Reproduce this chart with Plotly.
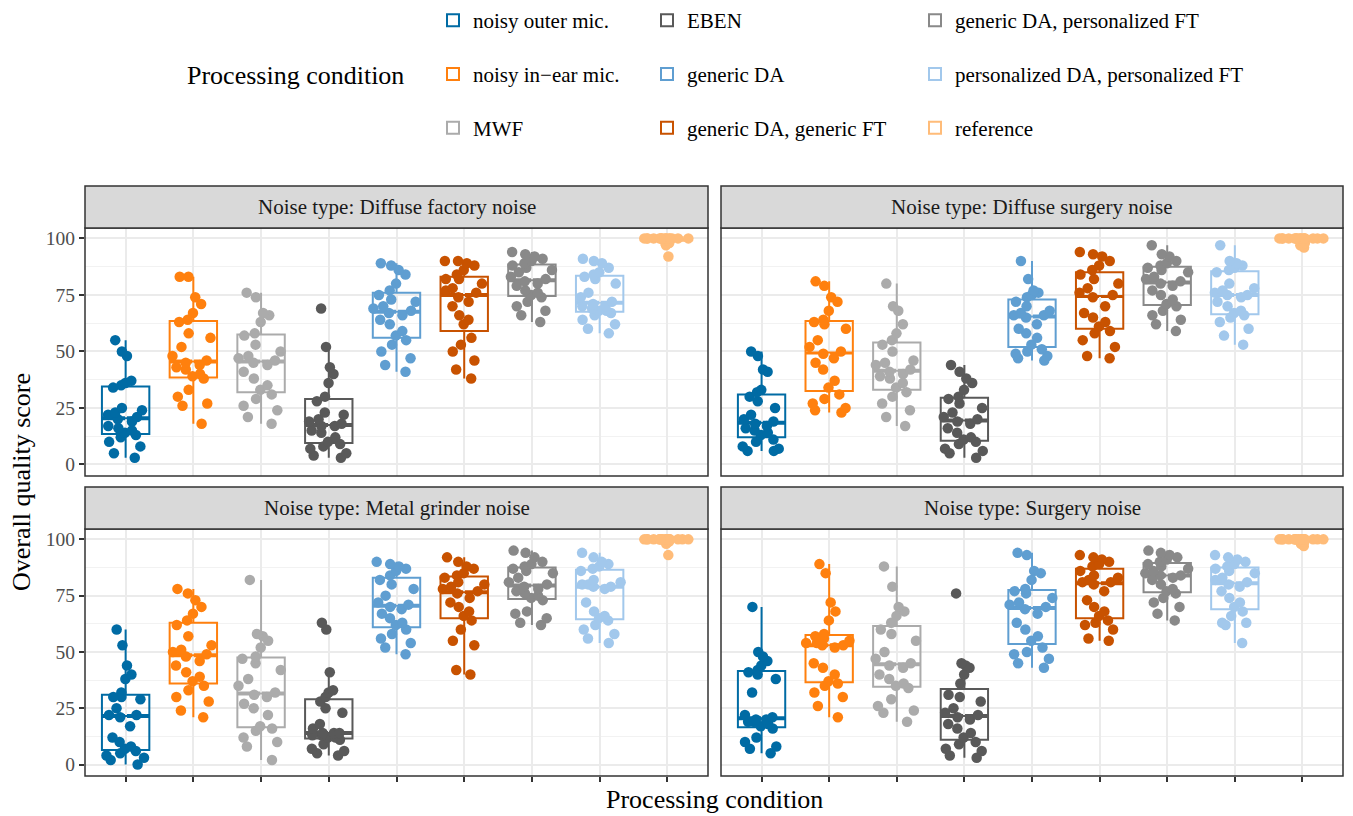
import numpy as np
import plotly.graph_objects as go

# Processing conditions (x categories) and their colours
conditions = [
    "noisy outer mic.",
    "noisy in\u2212ear mic.",
    "MWF",
    "EBEN",
    "generic DA",
    "generic DA, generic FT",
    "generic DA, personalized FT",
    "personalized DA, personalized FT",
    "reference",
]
colors = ["#006BA4", "#FF800E", "#ABABAB", "#595959", "#5F9ED1",
          "#C85200", "#898989", "#A2C8EC", "#FFBC79"]

panel_titles = [
    "Noise type: Diffuse factory noise",
    "Noise type: Diffuse surgery noise",
    "Noise type: Metal grinder noise",
    "Noise type: Surgery noise",
]

# Listener scores, one list per processing condition
diffuse_factory = [
    [3, 5, 8, 10, 12, 13, 14, 15, 16, 17, 19, 20, 21, 22, 23, 24, 25, 34, 35, 36, 37, 48, 50, 55],
    [18, 26, 27, 30, 33, 38, 39, 40, 42, 43, 44, 45, 46, 48, 52, 56, 58, 63, 64, 67, 71, 74, 83, 83],
    [18, 21, 24, 26, 29, 31, 33, 35, 38, 41, 44, 45, 46, 47, 48, 50, 53, 57, 58, 63, 66, 67, 74, 76],
    [3, 4, 5, 7, 8, 9, 10, 12, 14, 15, 17, 17, 18, 19, 20, 22, 23, 28, 30, 36, 40, 43, 52, 69],
    [41, 44, 47, 50, 53, 55, 57, 59, 62, 64, 66, 67, 68, 69, 70, 72, 73, 75, 77, 80, 84, 86, 88, 89],
    [38, 42, 46, 50, 53, 56, 62, 64, 66, 70, 72, 74, 76, 77, 78, 80, 82, 82, 84, 86, 88, 89, 90, 90],
    [63, 66, 68, 70, 72, 74, 75, 76, 77, 79, 80, 81, 82, 83, 85, 86, 87, 88, 89, 90, 91, 92, 93, 94],
    [58, 60, 62, 64, 66, 67, 68, 68, 69, 70, 70, 71, 72, 74, 76, 80, 82, 83, 84, 85, 87, 89, 90, 91],
    [92, 97, 98, 98, 99, 99, 99, 99, 100, 100, 100, 100, 100, 100, 100, 100, 100, 100, 100, 100, 100, 100, 100, 100],
]
diffuse_surgery = [
    [6, 6, 7, 8, 10, 11, 13, 14, 15, 16, 17, 18, 19, 20, 22, 25, 28, 30, 32, 33, 41, 42, 48, 50],
    [23, 24, 25, 27, 29, 31, 34, 37, 42, 45, 47, 49, 50, 52, 55, 60, 62, 63, 64, 68, 72, 74, 79, 81],
    [17, 21, 24, 27, 30, 32, 34, 36, 38, 39, 40, 41, 42, 44, 45, 46, 50, 53, 55, 58, 62, 68, 70, 80],
    [3, 5, 6, 7, 9, 10, 11, 12, 14, 16, 18, 19, 20, 21, 23, 25, 27, 29, 30, 33, 36, 38, 41, 44],
    [46, 47, 48, 49, 50, 51, 53, 56, 58, 60, 62, 65, 66, 66, 67, 68, 70, 72, 74, 75, 76, 77, 82, 90],
    [47, 48, 52, 55, 58, 59, 61, 63, 65, 67, 70, 74, 75, 76, 78, 80, 82, 84, 86, 88, 90, 92, 93, 94],
    [59, 62, 64, 66, 68, 70, 71, 73, 75, 77, 79, 80, 81, 82, 83, 85, 86, 87, 88, 89, 90, 92, 93, 97],
    [53, 57, 60, 63, 65, 66, 67, 68, 70, 72, 74, 75, 75, 76, 77, 78, 80, 85, 86, 87, 88, 89, 90, 97],
    [96, 97, 98, 99, 99, 99, 99, 100, 100, 100, 100, 100, 100, 100, 100, 100, 100, 100, 100, 100, 100, 100, 100, 100],
]
metal_grinder = [
    [0, 2, 3, 4, 5, 6, 7, 8, 10, 12, 17, 21, 22, 22, 25, 29, 30, 30, 32, 38, 40, 44, 53, 60],
    [21, 24, 28, 30, 33, 35, 37, 39, 41, 44, 46, 48, 49, 50, 51, 53, 57, 62, 64, 67, 70, 73, 76, 78],
    [2, 8, 10, 12, 15, 16, 17, 22, 25, 27, 30, 31, 32, 35, 38, 42, 45, 47, 48, 52, 55, 57, 58, 82],
    [4, 5, 6, 7, 9, 11, 12, 12, 13, 13, 14, 14, 14, 16, 18, 23, 25, 28, 30, 32, 33, 41, 60, 63],
    [49, 52, 54, 56, 58, 60, 62, 63, 65, 67, 69, 70, 71, 72, 75, 78, 80, 82, 84, 86, 87, 88, 89, 90],
    [40, 42, 53, 55, 60, 64, 66, 68, 70, 72, 74, 76, 77, 78, 79, 80, 81, 83, 84, 85, 87, 88, 90, 92],
    [62, 63, 65, 67, 68, 73, 74, 75, 76, 77, 78, 79, 80, 81, 83, 85, 86, 87, 88, 89, 90, 92, 94, 95],
    [54, 56, 58, 60, 62, 64, 65, 66, 68, 72, 78, 79, 79, 80, 80, 81, 82, 86, 87, 88, 89, 90, 92, 94],
    [93, 98, 99, 99, 99, 99, 100, 100, 100, 100, 100, 100, 100, 100, 100, 100, 100, 100, 100, 100, 100, 100, 100, 100],
]
surgery = [
    [5, 7, 8, 10, 12, 16, 17, 18, 19, 19, 20, 20, 21, 22, 32, 38, 40, 41, 42, 44, 46, 48, 50, 70],
    [21, 26, 30, 32, 35, 36, 37, 40, 43, 45, 52, 53, 53, 54, 54, 55, 56, 57, 58, 64, 68, 72, 85, 89],
    [19, 23, 24, 26, 29, 34, 35, 36, 38, 40, 43, 44, 45, 47, 50, 55, 58, 60, 63, 66, 68, 70, 79, 88],
    [3, 4, 6, 7, 9, 10, 12, 14, 16, 18, 20, 21, 22, 23, 25, 28, 30, 31, 36, 40, 43, 44, 45, 76],
    [43, 45, 47, 49, 50, 52, 55, 57, 60, 63, 67, 69, 70, 71, 72, 74, 76, 77, 78, 82, 85, 86, 93, 94],
    [55, 56, 60, 62, 63, 64, 66, 68, 70, 73, 77, 80, 81, 81, 82, 83, 84, 86, 88, 89, 90, 91, 92, 93],
    [64, 67, 70, 72, 74, 76, 77, 78, 80, 82, 83, 84, 84, 85, 86, 87, 88, 89, 90, 91, 92, 93, 94, 95],
    [54, 62, 63, 63, 66, 68, 70, 72, 74, 77, 79, 80, 81, 82, 83, 85, 86, 87, 88, 89, 90, 91, 92, 93],
    [97, 98, 99, 99, 99, 99, 100, 100, 100, 100, 100, 100, 100, 100, 100, 100, 100, 100, 100, 100, 100, 100, 100, 100],
]
panel_scores = [diffuse_factory, diffuse_surgery, metal_grinder, surgery]

y_ticks = [0, 25, 50, 75, 100]
y_minor = [12.5, 37.5, 62.5, 87.5]

W, H = 1353, 816
FONT = "Liberation Serif"
BORDER = "#333333"

# Panel geometry in pixels: (left, right, top, bottom) of each plotting area
panel_px = [
    (85, 708, 228, 476),
    (721, 1343, 228, 476),
    (85, 708, 529, 776),
    (721, 1343, 529, 776),
]
STRIP_H = 42
BOX_W = 0.7

fig = go.Figure()
shapes = []
annotations = []

legend_of = ["legend"] * 3 + ["legend2"] * 3 + ["legend3"] * 3

for p, scores in enumerate(panel_scores):
    ax = "" if p == 0 else str(p + 1)
    for i, vals in enumerate(scores):
        pos = i + 1
        fig.add_trace(go.Box(
            x=[pos] * len(vals), y=vals,
            name=conditions[i], legendgroup=conditions[i],
            legend=legend_of[i], showlegend=(p == 0),
            width=BOX_W, boxpoints="all", jitter=1, pointpos=0,
            whiskerwidth=0, quartilemethod="inclusive",
            fillcolor="rgba(255,255,255,0)",
            line=dict(color=colors[i], width=2),
            marker=dict(color=colors[i], size=10.5, line=dict(width=0)),
            xaxis="x" + ax, yaxis="y" + ax, hoverinfo="y",
        ))
        # heavier median bar, as in a ggplot box
        med = float(np.percentile(vals, 50))
        shapes.append(dict(
            type="line", xref="x" + ax, yref="y" + ax, layer="below",
            x0=pos - BOX_W / 2, x1=pos + BOX_W / 2, y0=med, y1=med,
            line=dict(color=colors[i], width=4),
        ))

layout_axes = {}
for p, (l, r, t, b) in enumerate(panel_px):
    key = "" if p == 0 else str(p + 1)
    bottom_row = p >= 2
    left_col = p % 2 == 0
    layout_axes["xaxis" + key] = dict(
        domain=[l / W, r / W], anchor="y" + key,
        range=[0.4, len(conditions) + 0.6],
        tickmode="array",
        tickvals=list(range(1, len(conditions) + 1)),
        showticklabels=False,
        showgrid=True, gridcolor="#EBEBEB", gridwidth=1.8, zeroline=False,
        ticks="outside" if bottom_row else "", ticklen=5, tickwidth=1.5, tickcolor=BORDER,
        showline=False, fixedrange=True,
    )
    layout_axes["yaxis" + key] = dict(
        domain=[1 - b / H, 1 - t / H], anchor="x" + key,
        range=[-5.1, 104.6],
        tickmode="array", tickvals=y_ticks,
        showticklabels=left_col,
        showgrid=True, gridcolor="#EBEBEB", gridwidth=1.8, zeroline=False,
        minor=dict(tickmode="array", tickvals=y_minor, showgrid=True,
                   gridcolor="#F2F2F2", gridwidth=1),
        ticks="outside" if left_col else "", ticklen=5, tickwidth=1.5, tickcolor=BORDER,
        tickfont=dict(family=FONT, size=19.5, color="#4D4D4D"),
        showline=False, fixedrange=True,
    )
    # panel border
    shapes.append(dict(type="rect", xref="paper", yref="paper",
                       x0=l / W, x1=r / W, y0=1 - b / H, y1=1 - t / H,
                       line=dict(color=BORDER, width=1.5), layer="above"))
    # strip
    shapes.append(dict(type="rect", xref="paper", yref="paper",
                       x0=l / W, x1=r / W, y0=1 - t / H, y1=1 - (t - STRIP_H) / H,
                       fillcolor="#D9D9D9", line=dict(color=BORDER, width=1.5), layer="above"))
    annotations.append(dict(text=panel_titles[p], xref="paper", yref="paper",
                            x=(l + r) / 2 / W, y=1 - (t - STRIP_H / 2) / H,
                            showarrow=False, xanchor="center", yanchor="middle",
                            font=dict(family=FONT, size=21, color="#1A1A1A")))

# axis titles and legend title
annotations.append(dict(text="Processing condition", xref="paper", yref="paper",
                        x=(85 + 1343) / 2 / W, y=1 - 799 / H, showarrow=False,
                        xanchor="center", yanchor="middle",
                        font=dict(family=FONT, size=26, color="black")))
annotations.append(dict(text="Overall quality score", xref="paper", yref="paper",
                        x=21 / W, y=1 - 482 / H, showarrow=False, textangle=-90,
                        xanchor="center", yanchor="middle",
                        font=dict(family=FONT, size=26, color="black")))
annotations.append(dict(text="Processing condition", xref="paper", yref="paper",
                        x=406 / W, y=1 - 75 / H, showarrow=False,
                        xanchor="right", yanchor="middle",
                        font=dict(family=FONT, size=26, color="black")))

legend_style = dict(orientation="v", xanchor="left",
                    yanchor="top", y=1.0, tracegroupgap=23.5,
                    bgcolor="rgba(0,0,0,0)", itemclick=False, itemdoubleclick=False,
                    font=dict(family=FONT, size=21, color="black"))

fig.update_layout(
    width=W, height=H,
    margin=dict(l=0, r=0, t=0, b=0, autoexpand=False),
    paper_bgcolor="white", plot_bgcolor="white",
    font=dict(family=FONT, size=18, color="black"),
    shapes=shapes, annotations=annotations,
    legend=dict(x=433 / W, **legend_style),
    legend2=dict(x=647 / W, **legend_style),
    legend3=dict(x=915 / W, **legend_style),
    **layout_axes,
)

fig.write_html("out.html")
